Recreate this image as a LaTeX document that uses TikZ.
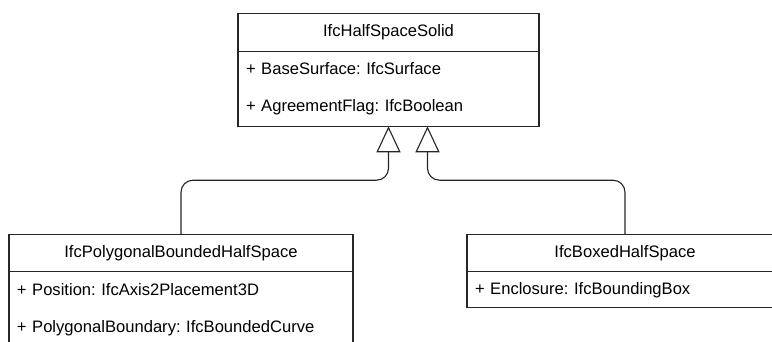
\documentclass[tikz,border=0pt]{standalone}
\usepackage{fontspec}
\setmainfont{Liberation Sans}
\usepackage{tikz}
\usetikzlibrary{positioning}
\usetikzlibrary{shapes,arrows,calc,arrows.meta}
\frenchspacing

\begin{document}
\begin{tikzpicture}[line width=0.8pt, draw=black!85,
    cls/.style={draw, rectangle, inner sep=0pt, outer sep=0pt, minimum height=0.94cm, font=\fontsize{11.8}{14}\selectfont},
    attrs/.style={draw, rectangle, align=left, inner xsep=0.2cm, inner ysep=0pt, outer sep=0pt, font=\fontsize{11.8}{26.3}\selectfont},
    inherit/.style={-{Triangle[open, length=0.65cm, width=0.6cm]}, rounded corners=0.3cm}]
    \useasboundingbox (0,0) rectangle (19.3,-8.55);

    % Nodes
    \node [cls, minimum width=7.525cm] (solid) at (9.7125,-0.8125) {IfcHalfSpaceSolid};
    \node [attrs, text width=7.125cm, minimum height=1.875cm, below=0pt of solid] (solidattr)
        {+ BaseSurface: IfcSurface\\+ AgreementFlag: IfcBoolean};

    \node [cls, minimum width=8.6cm] (poly) at (4.525,-6.325) {IfcPolygonalBoundedHalfSpace};
    \node [attrs, text width=8.2cm, minimum height=1.875cm, below=0pt of poly] (polyattr)
        {+ Position: IfcAxis2Placement3D\\+ PolygonalBoundary: IfcBoundedCurve};

    \node [cls, minimum width=7.9cm] (boxed) at (15.625,-6.325) {IfcBoxedHalfSpace};
    \node [attrs, text width=7.5cm, minimum height=0.9cm, below=0pt of boxed] (boxedattr)
        {+ Enclosure: IfcBoundingBox};

    % Arrows
    \draw [inherit] (poly.north) -- ++(0,1.35) -| (solidattr.south);
    \draw [inherit] (boxed.north) -- ++(0,1.35) -| ([xshift=0.975cm]solidattr.south);
\end{tikzpicture}
\end{document}
